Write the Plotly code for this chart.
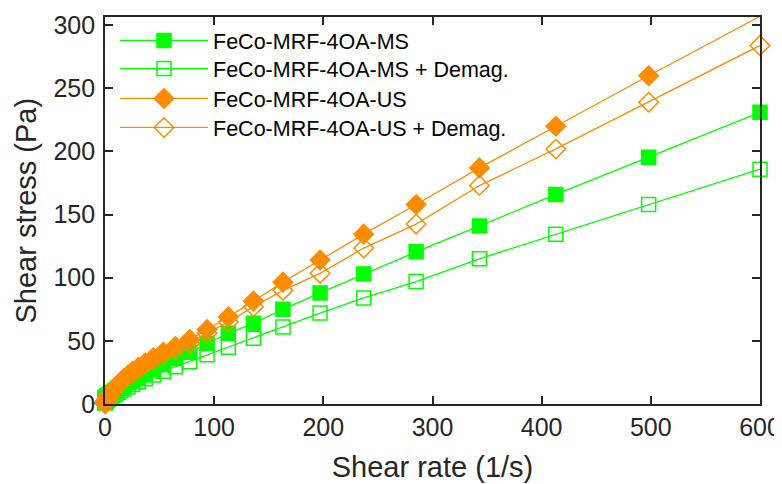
import plotly.graph_objects as go

shear_rate = [0.1, 0.12, 0.14, 0.17, 0.2, 0.24, 0.29, 0.35, 0.42, 0.5,
              0.61, 0.73, 0.88, 1.06, 1.28, 1.54, 1.86, 2.24, 2.7, 3.25,
              3.92, 4.72, 5.69, 6.86, 8.27, 9.97, 12.0, 14.5, 17.4, 21.0,
              25.3, 30.5, 36.8, 44.3, 53.4, 64.4, 77.6, 93.5, 113, 136,
              163, 197, 237, 285, 343, 413, 498, 600]

ms = [4.0, 4.1, 4.2, 4.3, 4.4, 4.5, 4.6, 4.7, 4.8, 4.9,
      5.0, 5.1, 5.2, 5.4, 5.6, 5.8, 6.0, 6.3, 6.6, 7.0,
      7.4, 7.9, 8.5, 9.2, 10.0, 11.0, 12.2, 13.5, 15.0, 16.8,
      18.8, 21.2, 24.0, 27.2, 31.0, 36.0, 41.0, 48.0, 56.0, 64.0,
      75.0, 88.0, 103.0, 120.5, 141.0, 166.0, 195.5, 231.0]

ms_demag = [1.0, 1.1, 1.2, 1.3, 1.4, 1.5, 1.6, 1.7, 1.8, 1.9,
            2.0, 2.1, 2.3, 2.5, 2.7, 2.9, 3.2, 3.5, 3.8, 4.2,
            4.7, 5.2, 5.8, 6.5, 7.3, 8.2, 9.3, 10.5, 12.0, 13.6,
            15.5, 17.6, 20.0, 23.0, 26.0, 29.5, 33.5, 39.0, 45.0, 52.0,
            61.0, 72.0, 84.0, 97.0, 115.0, 134.5, 158.0, 186.0]

us = [0.4, 0.5, 0.6, 0.7, 0.8, 0.9, 1.0, 1.1, 1.3, 1.5,
      1.7, 1.9, 2.2, 2.5, 2.9, 3.3, 3.8, 4.4, 5.1, 5.9,
      6.8, 7.8, 9.0, 10.4, 12.0, 13.6, 15.6, 17.8, 20.2, 22.8,
      25.8, 29.0, 32.5, 36.5, 41.0, 45.5, 51.0, 59.0, 69.0, 81.5,
      96.5, 114.0, 134.5, 158.0, 187.0, 220.0, 260.0, 307.0]

us_demag = [0.3, 0.4, 0.5, 0.6, 0.7, 0.8, 0.9, 1.0, 1.2, 1.4,
            1.6, 1.8, 2.1, 2.4, 2.8, 3.2, 3.7, 4.3, 5.0, 5.8,
            6.7, 7.7, 8.8, 10.1, 11.6, 13.2, 15.2, 17.3, 19.6, 22.2,
            25.0, 28.0, 31.5, 35.0, 39.0, 43.0, 48.0, 56.0, 65.0, 77.0,
            90.0, 103.5, 123.5, 142.5, 173.0, 202.0, 239.0, 284.0]

x_ticks = [0, 100, 200, 300, 400, 500, 600]
y_ticks = [0, 50, 100, 150, 200, 250, 300]

names = ["FeCo-MRF-4OA-MS", "FeCo-MRF-4OA-MS + Demag.",
         "FeCo-MRF-4OA-US", "FeCo-MRF-4OA-US + Demag."]
series = [ms, ms_demag, us, us_demag]

GREEN = "#00FF00"
ORANGE = "#FF8C00"
styles = [
    dict(color=GREEN, symbol="square", size=14),
    dict(color=GREEN, symbol="square-open", size=14),
    dict(color=ORANGE, symbol="diamond", size=15),
    dict(color=ORANGE, symbol="diamond-open", size=15),
]
legend_ids = ["legend", "legend2", "legend3", "legend4"]
legend_y = [0.9923, 0.9198, 0.8424, 0.7675]

fig = go.Figure()
for name, ys, st, lid in zip(names, series, styles, legend_ids):
    fig.add_trace(go.Scatter(
        x=shear_rate, y=ys, name=name, mode="lines+markers",
        cliponaxis=False, legend=lid,
        line=dict(color=st["color"], width=1.3),
        marker=dict(symbol=st["symbol"], size=st["size"], color=st["color"],
                    line=dict(color=st["color"], width=1.5)),
    ))

FONT = "Liberation Sans, Arial"
TXT = "#262626"
axis_common = dict(
    showline=True, linecolor=TXT, linewidth=1.8, mirror="ticks",
    ticks="inside", ticklen=8, tickwidth=1.5, tickcolor=TXT,
    showgrid=False, zeroline=False, automargin=False,
    tickfont=dict(family=FONT, size=25, color=TXT),
)

fig.update_xaxes(range=[0, 600], tickvals=x_ticks,
                 title=dict(text="Shear rate (1/s)", standoff=17,
                            font=dict(family=FONT, size=29, color=TXT)),
                 **axis_common)
fig.update_yaxes(range=[0, 306.5], tickvals=y_ticks, ticklabelstandoff=3,
                 **axis_common)

fig.add_annotation(text="Shear stress (Pa)", textangle=-90,
                   xref="paper", yref="paper", x=-0.1221, y=0.5,
                   xanchor="center", yanchor="middle", showarrow=False,
                   font=dict(family=FONT, size=29, color=TXT))

legend_style = dict(x=0.0153, xanchor="left", yanchor="top",
                    font=dict(family=FONT, size=21.5, color="#000000"),
                    bgcolor="rgba(0,0,0,0)", itemwidth=88)
layout_legends = {lid: dict(y=ly, **legend_style) for lid, ly in zip(legend_ids, legend_y)}

# The page body adds an 8 px margin, so the figure is sized to fit inside it.
fig.update_layout(
    width=774, height=476,
    margin=dict(l=97, r=22, t=9, b=80),
    paper_bgcolor="white", plot_bgcolor="white",
    showlegend=True,
    **layout_legends,
)

fig.write_html("out.html")
